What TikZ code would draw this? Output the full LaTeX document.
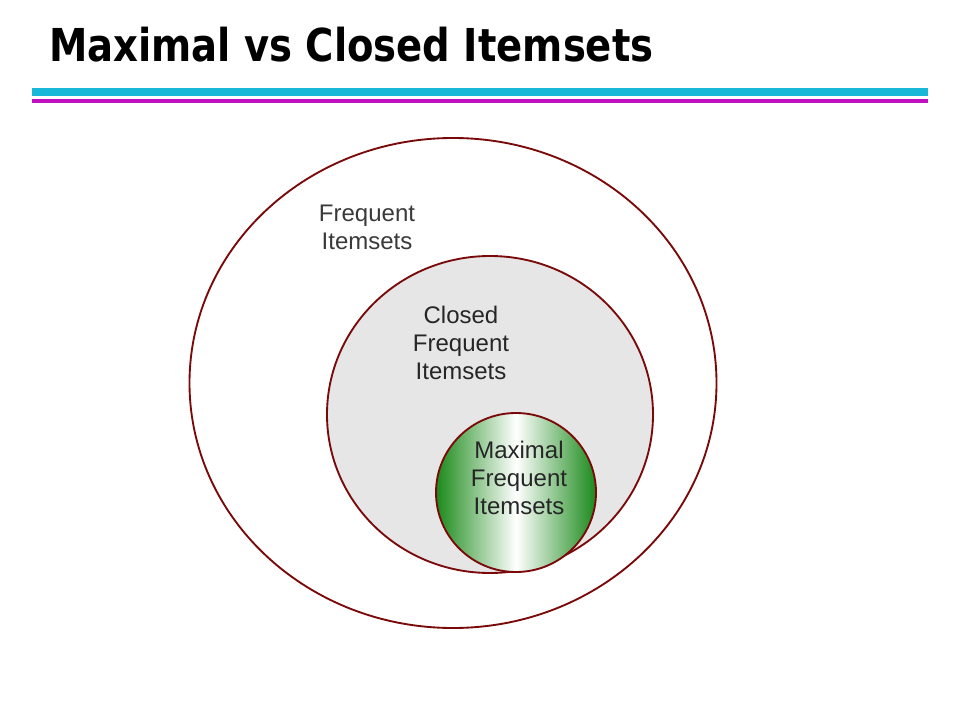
\documentclass[tikz,border=0pt]{standalone}
\usepackage{fontspec}
\setmainfont{Liberation Sans}
\newfontfamily\titlefont{DejaVu Sans Condensed}
\begin{document}
\begin{tikzpicture}[x=0.75pt,y=-0.75pt,
  ring/.style={draw=ringred,line width=1.4pt},
  lbl/.style={align=center,font=\fontsize{18}{21}\selectfont,inner sep=0pt}]
\definecolor{ringred}{HTML}{7A0A0A}
\definecolor{fillgray}{HTML}{E6E6E6}
\definecolor{cyanbar}{HTML}{1AB8D8}
\definecolor{magbar}{HTML}{C010C0}
\definecolor{greenedge}{HTML}{1A8A1A}
\definecolor{txtgray}{HTML}{3A3A3A}
\useasboundingbox (0,0) rectangle (960,720);
\fill[white] (0,0) rectangle (960,720);
% title
\node[anchor=west,inner sep=0pt,font=\titlefont\bfseries\fontsize{34}{40}\selectfont] (title) at (49,45) {\scalebox{0.945}[1]{Maximal vs Closed Itemsets}};
% bars
\fill[cyanbar] (32,88) rectangle (928,96);
\fill[magbar] (32,99) rectangle (928,103);
% circles
\draw[ring,fill=white] (453,383) ellipse [x radius=263.5,y radius=245];
\draw[ring,fill=fillgray] (490,414.5) ellipse [x radius=163,y radius=158.5];
\shade[left color=greenedge,right color=greenedge,middle color=white] (516,492.5) ellipse [x radius=80,y radius=79.5];
\draw[ring] (516,492.5) ellipse [x radius=80,y radius=79.5];
% labels
\node[lbl,text=txtgray] (freq) at (367,227) {Frequent\\Itemsets};
\node[lbl,text=black!85] (closed) at (461,343) {Closed\\Frequent\\Itemsets};
\node[lbl,text=black!85] (maxim) at (519,478) {Maximal\\Frequent\\Itemsets};
\end{tikzpicture}
\end{document}
